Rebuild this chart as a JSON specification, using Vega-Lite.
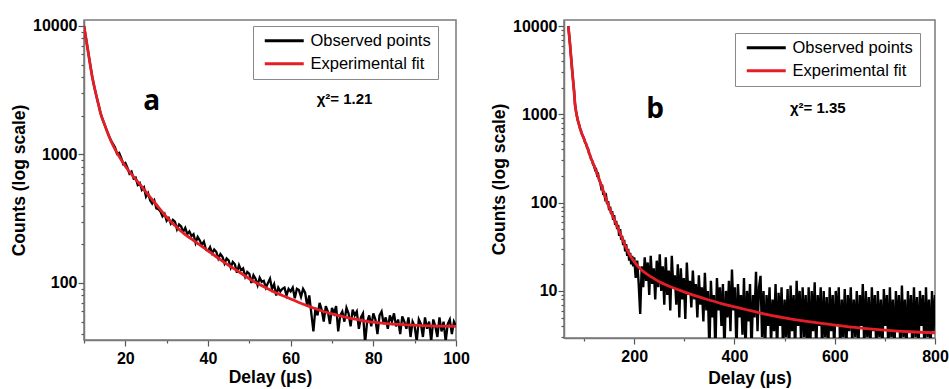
{
  "$schema": "https://vega.github.io/schema/vega-lite/v6.json",
  "padding": {"left": 9, "top": 17, "right": 0, "bottom": 0},
  "background": "white",
  "datasets": {
    "obsA": [
      {"t":10,"c":10000},{"t":10.5,"c":7950},{"t":11,"c":6300},{"t":11.5,"c":5000},{"t":12,"c":4000},{"t":12.5,"c":3350},{"t":13,"c":2850},{"t":13.5,"c":2450},{"t":14,"c":2100},{"t":14.5,"c":1880},{"t":15,"c":1700},{"t":15.5,"c":1540},{"t":16,"c":1400},{"t":16.5,"c":1290},
      {"t":17,"c":1210},{"t":17.5,"c":1140},{"t":18,"c":1010},{"t":18.5,"c":1030},{"t":19,"c":940},{"t":19.5,"c":840},{"t":20,"c":860},{"t":20.5,"c":790},{"t":21,"c":710},{"t":21.5,"c":735},{"t":22,"c":650},{"t":22.5,"c":660},{"t":23,"c":580},{"t":23.5,"c":600},{"t":24,"c":530},{"t":24.5,"c":555},{"t":25,"c":470},{"t":25.5,"c":500},{"t":26,"c":440},{"t":26.5,"c":415},{"t":27,"c":440},{"t":27.5,"c":380},{"t":28,"c":375},{"t":28.5,"c":360},{"t":29,"c":330},{"t":29.5,"c":345},{"t":30,"c":305},{"t":30.5,"c":320},{"t":31,"c":290},{"t":31.5,"c":310},{"t":32,"c":300},{"t":32.5,"c":262},{"t":33,"c":285},{"t":33.5,"c":275},{"t":34,"c":250},{"t":34.5,"c":268},{"t":35,"c":240},{"t":35.5,"c":252},{"t":36,"c":232},{"t":36.5,"c":240},{"t":37,"c":205},{"t":37.5,"c":228},{"t":38,"c":215},{"t":38.5,"c":198},{"t":39,"c":210},{"t":39.5,"c":182},{"t":40,"c":178},{"t":40.5,"c":190},{"t":41,"c":170},{"t":41.5,"c":182},{"t":42,"c":175},{"t":42.5,"c":155},{"t":43,"c":168},{"t":43.5,"c":160},{"t":44,"c":142},{"t":44.5,"c":155},{"t":45,"c":150},{"t":45.5,"c":132},{"t":46,"c":146},{"t":46.5,"c":140},{"t":47,"c":120},{"t":47.5,"c":138},{"t":48,"c":126},{"t":48.5,"c":130},{"t":49,"c":112},{"t":49.5,"c":122},{"t":50,"c":118},{"t":50.5,"c":100},{"t":51,"c":115},{"t":51.5,"c":108},{"t":52,"c":96},{"t":52.5,"c":110},{"t":53,"c":102},{"t":53.5,"c":104},{"t":54,"c":92},{"t":54.5,"c":100},{"t":55,"c":108},{"t":55.5,"c":90},{"t":56,"c":98},{"t":56.5,"c":80},{"t":57,"c":92},{"t":57.5,"c":86},{"t":58,"c":90},{"t":58.5,"c":92},{"t":59,"c":80},{"t":59.5,"c":90},{"t":60,"c":86},{"t":60.5,"c":92},{"t":61,"c":76},{"t":61.5,"c":90},{"t":62,"c":88},{"t":62.5,"c":78},{"t":63,"c":90},{"t":63.5,"c":84},{"t":64,"c":66},{"t":64.5,"c":80},{"t":65,"c":58},
      {"t":65.5,"c":42},{"t":66,"c":64},{"t":66.5,"c":56},{"t":67,"c":70},{"t":67.5,"c":62},{"t":68,"c":50},{"t":68.5,"c":66},{"t":69,"c":60},{"t":69.5,"c":48},{"t":70,"c":64},{"t":70.5,"c":58},{"t":71,"c":66},{"t":71.5,"c":42},{"t":72,"c":56},{"t":72.5,"c":60},{"t":73,"c":50},{"t":73.5,"c":64},{"t":74,"c":58},{"t":74.5,"c":46},{"t":75,"c":62},{"t":75.5,"c":56},{"t":76,"c":60},{"t":76.5,"c":44},{"t":77,"c":54},{"t":77.5,"c":58},{"t":78,"c":34},{"t":78.5,"c":50},{"t":79,"c":56},{"t":79.5,"c":46},{"t":80,"c":58},{"t":80.5,"c":52},{"t":81,"c":40},{"t":81.5,"c":56},{"t":82,"c":60},{"t":82.5,"c":48},{"t":83,"c":54},{"t":83.5,"c":44},{"t":84,"c":56},{"t":84.5,"c":50},{"t":85,"c":58},{"t":85.5,"c":46},{"t":86,"c":52},{"t":86.5,"c":40},{"t":87,"c":55},{"t":87.5,"c":50},{"t":88,"c":44},{"t":88.5,"c":54},{"t":89,"c":38},{"t":89.5,"c":50},{"t":90,"c":46},{"t":90.5,"c":35},{"t":91,"c":52},{"t":91.5,"c":48},{"t":92,"c":38},{"t":92.5,"c":54},{"t":93,"c":44},{"t":93.5,"c":50},{"t":94,"c":35},{"t":94.5,"c":52},{"t":95,"c":46},{"t":95.5,"c":38},{"t":96,"c":54},{"t":96.5,"c":42},{"t":97,"c":50},{"t":97.5,"c":35},{"t":98,"c":48},{"t":98.5,"c":52},{"t":99,"c":40},{"t":99.5,"c":50},{"t":100,"c":46}
    ],
    "fitA": [
      {"t":10,"c":10000},{"t":10.5,"c":7950},{"t":11,"c":6300},{"t":11.5,"c":5000},{"t":12,"c":4000},{"t":12.5,"c":3350},{"t":13,"c":2850},{"t":13.5,"c":2450},{"t":14,"c":2100},{"t":15,"c":1700},{"t":16,"c":1400},{"t":17,"c":1180},{"t":18,"c":1030},{"t":19,"c":910},{"t":20,"c":810},{"t":22,"c":670},{"t":24,"c":560},{"t":26,"c":465},{"t":28,"c":390},{"t":30,"c":325},{"t":32,"c":280},{"t":34,"c":245},{"t":36,"c":220},{"t":38,"c":198},{"t":40,"c":178},{"t":42,"c":160},{"t":44,"c":144},{"t":46,"c":131},{"t":48,"c":119},{"t":50,"c":108},{"t":52,"c":99},{"t":54,"c":92},{"t":56,"c":85},{"t":58,"c":80},{"t":60,"c":75},{"t":62,"c":70.5},{"t":64,"c":66.5},{"t":66,"c":63},{"t":68,"c":60},{"t":70,"c":57.5},{"t":72,"c":55.5},{"t":74,"c":53.5},{"t":76,"c":52},{"t":78,"c":50.5},{"t":80,"c":49.5},{"t":84,"c":48},{"t":88,"c":47.2},{"t":92,"c":46.6},{"t":96,"c":46.2},{"t":100,"c":46}
    ],
    "obsB": [
      {"t":68.6,"c":10000},{"t":70,"c":8200},{"t":72,"c":6200},{"t":74,"c":4500},{"t":76,"c":3300},{"t":78,"c":2450},{"t":80,"c":1850},{"t":82,"c":1300},{"t":84,"c":1080},{"t":86,"c":940},{"t":88,"c":830},{"t":90,"c":770},{"t":92,"c":690},{"t":94,"c":650},{"t":96,"c":590},{"t":98,"c":560},{"t":100,"c":530},{"t":102,"c":480},{"t":104,"c":465},{"t":106,"c":420},{"t":108,"c":405},{"t":110,"c":360},{"t":112,"c":345},{"t":114,"c":310},{"t":116,"c":300},{"t":118,"c":270},{"t":120,"c":262},{"t":122,"c":235},{"t":124,"c":238},{"t":126,"c":205},{"t":128,"c":210},{"t":130,"c":180},{"t":132,"c":172},{"t":134,"c":150},{"t":136,"c":160},{"t":138,"c":128},{"t":140,"c":130},{"t":142,"c":112},{"t":144,"c":118},{"t":146,"c":96},{"t":148,"c":104},{"t":150,"c":82},{"t":152,"c":90},{"t":154,"c":74},{"t":156,"c":80},{"t":158,"c":64},{"t":160,"c":72},{"t":162,"c":56},{"t":164,"c":62},{"t":166,"c":50},{"t":168,"c":56},{"t":170,"c":42},{"t":172,"c":50},{"t":174,"c":38},{"t":176,"c":42},{"t":178,"c":33},{"t":180,"c":38},{"t":182,"c":28},{"t":184,"c":34},{"t":186,"c":25},{"t":188,"c":30},{"t":190,"c":22},{"t":192,"c":27},{"t":194,"c":20},{"t":196,"c":25},{"t":198,"c":19},
      {"t":200,"c":24},{"t":203,"c":14},{"t":206,"c":22},{"t":209,"c":12},{"t":212,"c":5.5},{"t":215,"c":19},{"t":218,"c":11},{"t":221,"c":24},{"t":224,"c":13},{"t":227,"c":21},{"t":230,"c":9},{"t":233,"c":25},{"t":236,"c":12},{"t":239,"c":18},{"t":242,"c":8},{"t":245,"c":22},{"t":248,"c":11},
      {"t":251,"c":26},{"t":254,"c":10},{"t":257,"c":19},{"t":260,"c":7},{"t":263,"c":24},{"t":266,"c":9},{"t":269,"c":17},{"t":272,"c":6},{"t":275,"c":25},{"t":278,"c":11},{"t":281,"c":15},{"t":284,"c":7},{"t":287,"c":20},{"t":290,"c":5},{"t":293,"c":18},{"t":296,"c":8},{"t":299,"c":14},{"t":302,"c":4.8},{"t":305,"c":21},{"t":308,"c":9},{"t":311,"c":13},{"t":314,"c":6.5},{"t":317,"c":17},{"t":320,"c":8},
      {"t":323,"c":12},{"t":326,"c":5},{"t":329,"c":15},{"t":332,"c":7},{"t":335,"c":11},{"t":338,"c":4.5},{"t":341,"c":16},{"t":344,"c":6},{"t":347,"c":10},{"t":350,"c":2},{"t":353,"c":13},{"t":356,"c":5},{"t":359,"c":9},{"t":362,"c":2},{"t":365,"c":14},{"t":368,"c":6},{"t":371,"c":11},{"t":374,"c":4},{"t":377,"c":12},{"t":380,"c":2},{"t":383,"c":10},{"t":386,"c":5},{"t":389,"c":13},{"t":392,"c":3.5},{"t":395,"c":17.5},{"t":398,"c":6},{"t":401,"c":11},{"t":404,"c":2},{"t":407,"c":12},{"t":410,"c":5},{"t":413,"c":9},{"t":416,"c":3.2},{"t":419,"c":14},{"t":422,"c":2},{"t":425,"c":10},{"t":428,"c":4.5},{"t":431,"c":12},{"t":434,"c":2},{"t":437,"c":9},{"t":440,"c":5},{"t":443,"c":16.5},{"t":446,"c":3.5},{"t":449,"c":11},
      {"t":452,"c":14.8},{"t":455,"c":3},{"t":458,"c":10},{"t":461,"c":2},{"t":464,"c":9},{"t":467,"c":4},{"t":470,"c":11},{"t":473,"c":2.5},{"t":476,"c":8},{"t":479,"c":3.5},{"t":482,"c":12},{"t":485,"c":2},{"t":488,"c":9.5},{"t":491,"c":4},{"t":494,"c":11},{"t":497,"c":2},{"t":500,"c":8},{"t":503,"c":3},{"t":506,"c":10.5},{"t":509,"c":2},{"t":512,"c":11.5},{"t":515,"c":3.5},{"t":518,"c":9},{"t":521,"c":2},{"t":524,"c":13},{"t":527,"c":4},{"t":530,"c":10},{"t":533,"c":2.5},{"t":536,"c":11},{"t":539,"c":3},{"t":542,"c":9},{"t":545,"c":2},{"t":548,"c":11},{"t":551,"c":2},{"t":554,"c":10},{"t":557,"c":3.5},{"t":560,"c":12.5},{"t":563,"c":2},{"t":566,"c":9},{"t":569,"c":4},{"t":572,"c":11},{"t":575,"c":2},{"t":578,"c":10},{"t":581,"c":3},{"t":584,"c":8.5},{"t":587,"c":2},{"t":590,"c":11},{"t":593,"c":3.5},{"t":596,"c":9},{"t":599,"c":2},{"t":602,"c":10},{"t":605,"c":4},{"t":608,"c":11},{"t":611,"c":2},{"t":614,"c":8},{"t":617,"c":3},{"t":620,"c":10.5},{"t":623,"c":2},{"t":626,"c":9},{"t":629,"c":3.5},{"t":632,"c":11},{"t":635,"c":2.5},{"t":638,"c":8},{"t":641,"c":3},{"t":644,"c":10},{"t":647,"c":2},{"t":650,"c":9},{"t":653,"c":4},{"t":656,"c":12},{"t":659,"c":2},{"t":662,"c":10},{"t":665,"c":3},{"t":668,"c":8.5},{"t":671,"c":2},{"t":674,"c":11},{"t":677,"c":3.5},{"t":680,"c":9},{"t":683,"c":2},{"t":686,"c":10},{"t":689,"c":3},{"t":692,"c":8},{"t":695,"c":2},{"t":698,"c":10.5},{"t":701,"c":4},{"t":704,"c":9},{"t":707,"c":2},{"t":710,"c":11},{"t":713,"c":3},{"t":716,"c":8},{"t":719,"c":2},{"t":722,"c":10},{"t":725,"c":3.5},{"t":728,"c":9},{"t":731,"c":2},{"t":734,"c":11.5},{"t":737,"c":3},{"t":740,"c":8},{"t":743,"c":2},{"t":746,"c":10},{"t":749,"c":3.5},{"t":752,"c":9},{"t":755,"c":2},{"t":758,"c":11},{"t":761,"c":3},{"t":764,"c":8.5},{"t":767,"c":2},{"t":770,"c":10},{"t":773,"c":4},{"t":776,"c":9},{"t":779,"c":2},{"t":782,"c":11},{"t":785,"c":3},{"t":788,"c":8},{"t":791,"c":2},{"t":794,"c":10},{"t":797,"c":3.5},{"t":800,"c":9}
    ],
    "fitB": [
      {"t":68.6,"c":10000},{"t":70,"c":8200},{"t":72,"c":6200},{"t":74,"c":4500},{"t":76,"c":3300},{"t":78,"c":2450},{"t":80,"c":1850},{"t":82,"c":1300},{"t":84,"c":1080},{"t":86,"c":940},{"t":88,"c":840},{"t":90,"c":760},{"t":94,"c":640},{"t":98,"c":560},{"t":102,"c":490},{"t":106,"c":430},{"t":112,"c":340},{"t":118,"c":280},{"t":124,"c":230},{"t":130,"c":185},{"t":136,"c":148},{"t":142,"c":118},{"t":148,"c":95},{"t":154,"c":78},{"t":160,"c":65},{"t":166,"c":54},{"t":172,"c":45},{"t":178,"c":37},{"t":185,"c":30},{"t":192,"c":25},{"t":200,"c":21.5},{"t":210,"c":18.3},{"t":220,"c":16.3},{"t":235,"c":14.3},{"t":250,"c":12.7},{"t":270,"c":11.3},{"t":290,"c":10.2},{"t":312,"c":9.2},{"t":340,"c":8.2},{"t":378,"c":7.1},{"t":420,"c":6.2},{"t":452,"c":5.6},{"t":500,"c":4.95},{"t":552,"c":4.45},{"t":600,"c":4.1},{"t":652,"c":3.8},{"t":700,"c":3.6},{"t":750,"c":3.45},{"t":800,"c":3.36}
    ]
  },
  "hconcat": [
    {
      "width": 372,
      "height": 320,
      "layer": [
        {
          "data": {"name": "obsA"},
          "mark": {"type": "line", "clip": true, "strokeWidth": 2.3},
          "encoding": {
            "x": {"field": "t", "type": "quantitative", "scale": {"domain": [10, 100], "nice": false, "zero": false},
              "axis": {"title": "Delay (\u03bcs)", "values": [10,20,30,40,50,60,70,80,90,100], "labelExpr": "datum.value % 20 == 0 ? datum.label : ''", "tickSize": {"condition": {"test": "datum.value % 20 == 0", "value": 6}, "value": 3}, "labelPadding": 4, "titlePadding": 2, "labelOverlap": false, "labelFlush": false}},
            "y": {"field": "c", "type": "quantitative", "scale": {"type": "log", "domain": [36, 11130], "nice": false},
              "axis": {"title": "Counts (log scale)", "format": "d", "values": [40,50,60,70,80,90,100,200,300,400,500,600,700,800,900,1000,2000,3000,4000,5000,6000,7000,8000,9000,10000], "labelExpr": "datum.value == 100 || datum.value == 1000 || datum.value == 10000 ? datum.label : ''", "tickSize": {"condition": {"test": "datum.value == 100 || datum.value == 1000 || datum.value == 10000", "value": 6}, "value": 3}, "labelPadding": 1, "titlePadding": 4, "labelOverlap": false}},
            "color": {"datum": "Observed points", "type": "nominal",
              "scale": {"domain": ["Observed points", "Experimental fit"], "range": ["#000000", "#e41e26"]},
              "legend": {"title": null, "orient": "none", "legendX": 169, "legendY": 6}}
          }
        },
        {
          "data": {"name": "fitA"},
          "mark": {"type": "line", "clip": true, "strokeWidth": 2.8, "interpolate": "monotone"},
          "encoding": {
            "x": {"field": "t", "type": "quantitative"},
            "y": {"field": "c", "type": "quantitative"},
            "color": {"datum": "Experimental fit", "type": "nominal"}
          }
        },
        {
          "data": {"values": [{}]},
          "mark": {"type": "text", "text": "a", "font": "Open Sans", "fontWeight": "bold", "fontSize": 28, "align": "center", "baseline": "alphabetic", "color": "#000"},
          "encoding": {"x": {"datum": 26.4}, "y": {"datum": 2208}}
        },
        {
          "data": {"values": [{}]},
          "mark": {"type": "text", "text": "\u03c7\u00b2= 1.21", "font": "Liberation Sans", "fontWeight": "bold", "fontSize": 15, "align": "left", "baseline": "alphabetic", "color": "#000"},
          "encoding": {"x": {"datum": 66.3}, "y": {"datum": 2460}}
        }
      ]
    },
    {
      "width": 371,
      "height": 318,
      "layer": [
        {
          "data": {"name": "obsB"},
          "mark": {"type": "line", "clip": true, "strokeWidth": 2.4},
          "encoding": {
            "x": {"field": "t", "type": "quantitative", "scale": {"domain": [60, 800], "nice": false, "zero": false},
              "axis": {"title": "Delay (\u03bcs)", "values": [100,200,300,400,500,600,700,800], "labelExpr": "datum.value % 200 == 0 ? datum.label : ''", "tickSize": {"condition": {"test": "datum.value % 200 == 0", "value": 6}, "value": 3}, "labelPadding": 4, "titlePadding": 5, "labelOverlap": false, "labelFlush": false}},
            "y": {"field": "c", "type": "quantitative", "scale": {"type": "log", "domain": [2.93, 11700], "nice": false},
              "axis": {"title": "Counts (log scale)", "format": "d", "values": [3,4,5,6,7,8,9,10,20,30,40,50,60,70,80,90,100,200,300,400,500,600,700,800,900,1000,2000,3000,4000,5000,6000,7000,8000,9000,10000], "labelExpr": "datum.value == 10 || datum.value == 100 || datum.value == 1000 || datum.value == 10000 ? datum.label : ''", "tickSize": {"condition": {"test": "datum.value == 10 || datum.value == 100 || datum.value == 1000 || datum.value == 10000", "value": 6}, "value": 3}, "labelPadding": 1, "titlePadding": 4, "labelOverlap": false}},
            "color": {"datum": "Observed points", "type": "nominal",
              "scale": {"domain": ["Observed points", "Experimental fit"], "range": ["#000000", "#e41e26"]},
              "legend": {"title": null, "orient": "none", "legendX": 171, "legendY": 13}}
          }
        },
        {
          "data": {"name": "fitB"},
          "mark": {"type": "line", "clip": true, "strokeWidth": 2.8, "interpolate": "monotone"},
          "encoding": {
            "x": {"field": "t", "type": "quantitative"},
            "y": {"field": "c", "type": "quantitative"},
            "color": {"datum": "Experimental fit", "type": "nominal"}
          }
        },
        {
          "data": {"values": [{}]},
          "mark": {"type": "text", "text": "b", "font": "Open Sans", "fontWeight": "bold", "fontSize": 28, "align": "center", "baseline": "alphabetic", "color": "#000"},
          "encoding": {"x": {"datum": 241.5}, "y": {"datum": 901}}
        },
        {
          "data": {"values": [{}]},
          "mark": {"type": "text", "text": "\u03c7\u00b2= 1.35", "font": "Liberation Sans", "fontWeight": "bold", "fontSize": 15, "align": "left", "baseline": "alphabetic", "color": "#000"},
          "encoding": {"x": {"datum": 510.7}, "y": {"datum": 1042}}
        }
      ]
    }
  ],
  "spacing": 108,
  "bounds": "flush",
  "resolve": {"scale": {"color": "independent"}, "legend": {"color": "independent"}},
  "config": {
    "view": {"stroke": "#7a7a7a", "strokeWidth": 1.5},
    "axis": {"grid": false, "domainColor": "#7a7a7a", "domainWidth": 1.5, "tickColor": "#555555", "tickWidth": 1.2,
      "labelFont": "Liberation Sans", "labelFontWeight": "bold", "labelFontSize": 16, "labelColor": "#000000",
      "titleFont": "Liberation Sans", "titleFontWeight": "bold", "titleFontSize": 17.5, "titleColor": "#000000"},
    "legend": {"labelFont": "Liberation Sans", "labelFontSize": 16.5, "labelColor": "#000000", "symbolType": "M-0.46,0H5.54", "symbolSize": 169, "symbolStrokeWidth": 3, "strokeColor": "#888888", "padding": 6.5, "rowPadding": 6, "labelOffset": 34.5}
  }
}
